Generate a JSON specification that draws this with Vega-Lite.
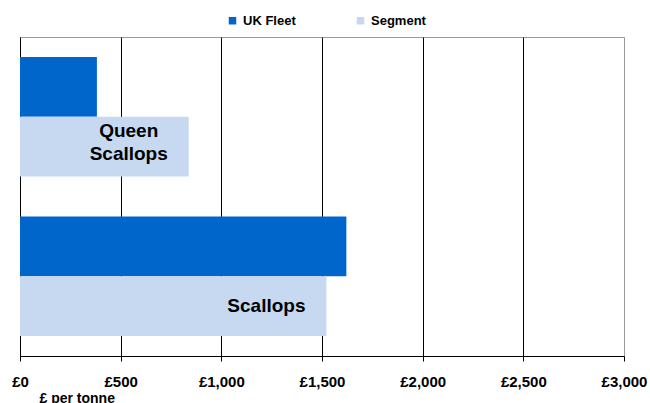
{
  "$schema": "https://vega.github.io/schema/vega-lite/v6.json",
  "width": 604,
  "height": 319,
  "autosize": {"type": "none"},
  "padding": {"left": 20, "top": 37, "right": 26, "bottom": 47},
  "background": "white",
  "config": {
    "view": {"stroke": "#999999", "strokeWidth": 1},
    "font": "Liberation Sans"
  },
  "data": {
    "values": [
      {"category": "Queen Scallops", "series": "UK Fleet", "value": 382},
      {"category": "Queen Scallops", "series": "Segment", "value": 838},
      {"category": "Scallops", "series": "UK Fleet", "value": 1621},
      {"category": "Scallops", "series": "Segment", "value": 1522}
    ]
  },
  "encoding": {
    "y": {
      "field": "category",
      "type": "nominal",
      "sort": ["Queen Scallops", "Scallops"],
      "axis": null,
      "scale": {"paddingInner": 0.25, "paddingOuter": 0.125}
    },
    "yOffset": {
      "field": "series",
      "type": "nominal",
      "sort": ["UK Fleet", "Segment"],
      "scale": {"paddingInner": 0, "paddingOuter": 0}
    },
    "x": {
      "field": "value",
      "type": "quantitative",
      "scale": {"domain": [0, 3000], "nice": false},
      "axis": {
        "values": [0, 500, 1000, 1500, 2000, 2500, 3000],
        "labelExpr": "'£' + format(datum.value, ',')",
        "grid": true,
        "gridColor": {"condition": {"test": "datum.value == 3000", "value": "#999999"}, "value": "#000000"},
        "gridWidth": 1,
        "domainColor": "#000000",
        "tickColor": "#000000",
        "tickSize": 5,
        "labelFlush": false,
        "labelOverlap": false,
        "labelBound": false,
        "labelFontSize": 15,
        "labelFontWeight": "bold",
        "labelColor": "#000000",
        "labelPadding": 13,
        "title": "£ per tonne",
        "titleFontSize": 14,
        "titleFontWeight": "bold",
        "titleColor": "#000000",
        "titleAlign": "left",
        "titleAnchor": "start",
        "titleBaseline": "top",
        "titleX": 19,
        "titleY": 35
      }
    }
  },
  "layer": [
    {
      "mark": {"type": "bar"},
      "encoding": {
        "color": {
          "field": "series",
          "type": "nominal",
          "scale": {"domain": ["UK Fleet", "Segment"], "range": ["#0066CC", "#C6D9F1"]},
          "legend": {
            "orient": "none",
            "direction": "horizontal",
            "legendX": 206,
            "legendY": -23,
            "title": null,
            "padding": 0,
            "symbolType": "square",
            "symbolSize": 56,
            "symbolStrokeWidth": 0,
            "symbolOffset": 0,
            "labelOffset": 4,
            "labelFontSize": 13,
            "labelFontWeight": "bold",
            "labelColor": "#000000",
            "columnPadding": 58
          }
        }
      }
    },
    {
      "transform": [{"filter": "datum.series == 'Segment'"}],
      "mark": {
        "type": "text",
        "align": "center",
        "baseline": "middle",
        "dx": -60,
        "dy": {"expr": "-(length(split(datum.category, ' ')) - 1) * 16"},
        "fontSize": 19,
        "fontWeight": "bold",
        "lineBreak": " ",
        "lineHeight": 23,
        "color": "#000000"
      },
      "encoding": {"text": {"field": "category"}}
    }
  ]
}
